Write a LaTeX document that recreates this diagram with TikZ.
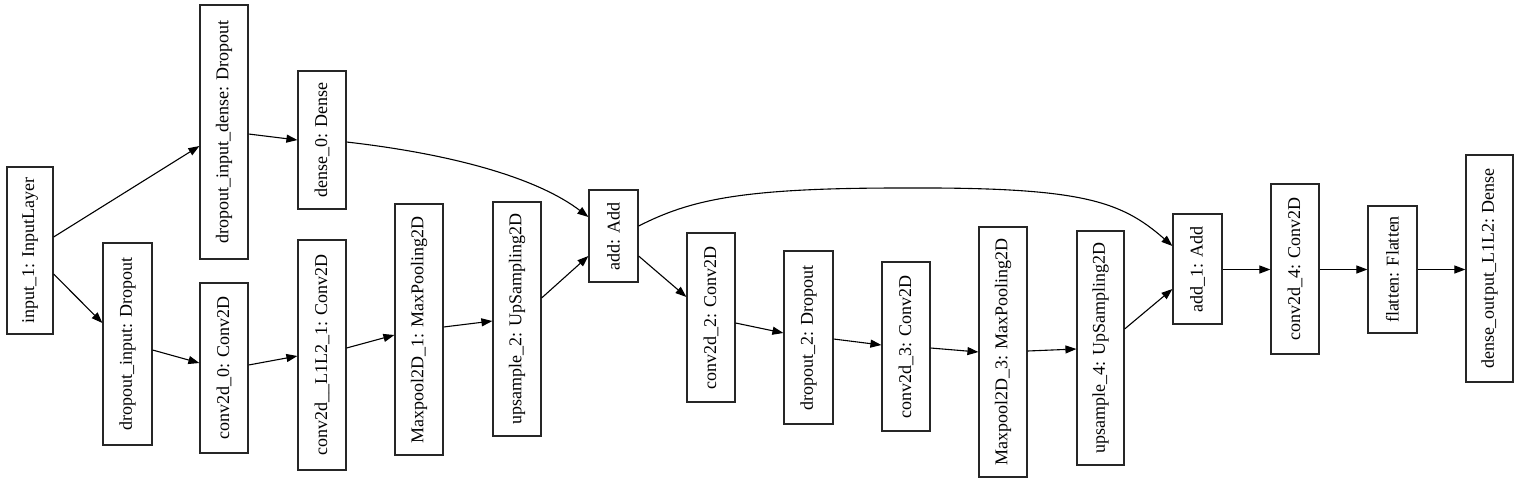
\documentclass[tikz,border=0pt]{standalone}
\usepackage{fontspec}
\setmainfont{Liberation Serif}
\usetikzlibrary{arrows.meta}
\begin{document}
\begin{tikzpicture}[x=1pt,y=-1pt,
  layer/.style={draw=black!85,line width=1.2pt,inner sep=0pt,fill=white,
    font=\fontsize{18}{18}\selectfont},
  edge/.style={draw=black,line width=1.1pt,-{Triangle[length=11pt,width=8pt]}}]
\useasboundingbox (0,0) rectangle (1520,483);
\newcommand{\lay}[6]{\node[layer,minimum width=#4pt,minimum height=#5pt] (#1) at (#2,#3) {\rotatebox{90}{#6}};}
\lay{in}{30}{250.5}{46}{167}{input\_1: InputLayer}
\lay{did}{224}{132}{48}{254}{dropout\_input\_dense: Dropout}
\lay{di}{127.5}{344}{49}{202}{dropout\_input: Dropout}
\lay{dz}{322}{140}{48}{138}{dense\_0: Dense}
\lay{cz}{224}{368}{48}{170}{conv2d\_0: Conv2D}
\lay{ca}{322}{355}{48}{230}{conv2d\_\_L1L2\_1: Conv2D}
\lay{mpa}{419}{329.5}{48}{251}{Maxpool2D\_1: MaxPooling2D}
\lay{upb}{517}{319}{48}{234}{upsample\_2: UpSampling2D}
\lay{add}{613.5}{236}{49}{92}{add: Add}
\lay{cb}{711}{317.5}{48}{169}{conv2d\_2: Conv2D}
\lay{drb}{808.5}{337.5}{49}{173}{dropout\_2: Dropout}
\lay{cc}{906}{346.5}{48}{169}{conv2d\_3: Conv2D}
\lay{mpc}{1003}{352}{48}{250}{Maxpool2D\_3: MaxPooling2D}
\lay{upd}{1100.5}{348}{47}{234}{upsample\_4: UpSampling2D}
\lay{adda}{1197.5}{269}{49}{110}{add\_1: Add}
\lay{cd}{1295}{269}{48}{170}{conv2d\_4: Conv2D}
\lay{fl}{1392.5}{269.5}{49}{127}{flatten: Flatten}
\lay{dout}{1489.5}{268.5}{47}{227}{dense\_output\_L1L2: Dense}

\draw[edge] (in.east |- 0,237) -- (did.west |- 0,146);
\draw[edge] (in.east |- 0,274) -- (di.west |- 0,323);
\draw[edge] (did.east |- 0,134) -- (dz.west |- 0,140);
\draw[edge] (di.east |- 0,350) -- (cz.west |- 0,363);
\draw[edge] (cz.east |- 0,365) -- (ca.west |- 0,356);
\draw[edge] (ca.east |- 0,348) -- (mpa.west |- 0,335);
\draw[edge] (dz.east |- 0,142) .. controls (460,155) and (540,180) .. (add.west |- 0,217);
\draw[edge] (mpa.east |- 0,327) -- (upb.west |- 0,321);
\draw[edge] (upb.east |- 0,298) -- (add.west |- 0,256);
\draw[edge] (add.east |- 0,256) -- (cb.west |- 0,297);
\draw[edge] (add.east |- 0,226) .. controls (690,200) and (740,188) .. (900,188)
  .. controls (1080,187) and (1120,200) .. (adda.west |- 0,246);
\draw[edge] (cb.east |- 0,323) -- (drb.west |- 0,333);
\draw[edge] (drb.east |- 0,339) -- (cc.west |- 0,345);
\draw[edge] (cc.east |- 0,348) -- (mpc.west |- 0,352);
\draw[edge] (mpc.east |- 0,351) -- (upd.west |- 0,349);
\draw[edge] (upd.east |- 0,329) -- (adda.west |- 0,289);
\draw[edge] (adda.east |- 0,269.5) -- (cd.west |- 0,269.5);
\draw[edge] (cd.east |- 0,269.5) -- (fl.west |- 0,269.5);
\draw[edge] (fl.east |- 0,269.5) -- (dout.west |- 0,269.5);
\end{tikzpicture}
\end{document}
